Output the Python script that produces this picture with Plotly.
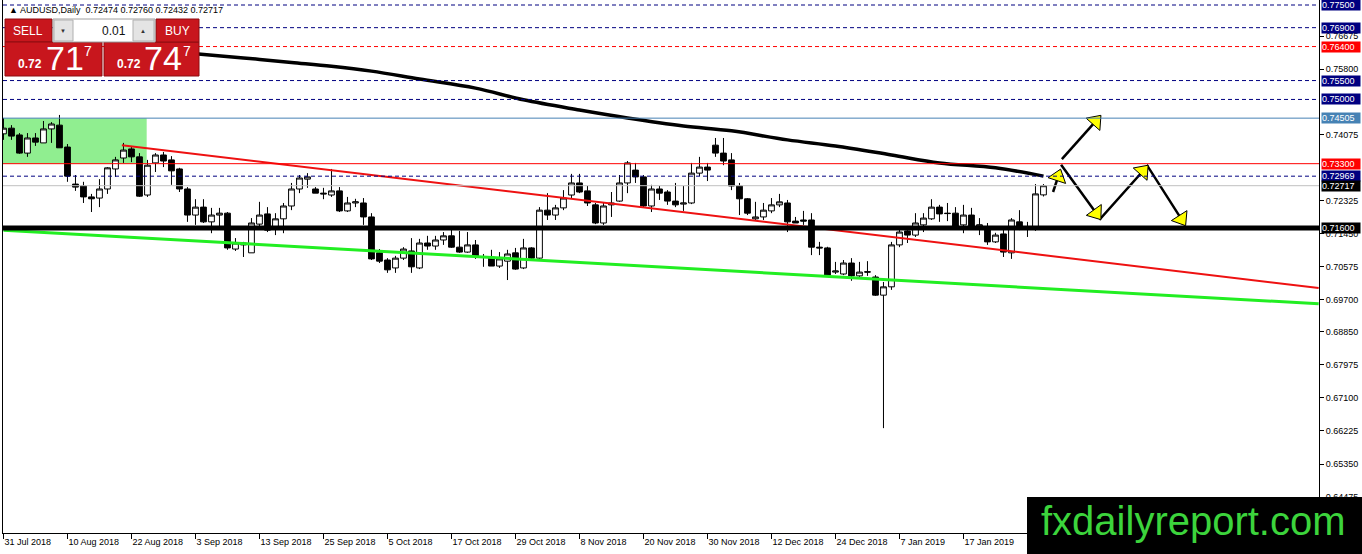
import math
import plotly.graph_objects as go

# AUDUSD daily bars, 31 Jul 2018 .. 31 Jan 2019 (bar index 0..130)
opens = [0.7409, 0.7424, 0.7406, 0.7358, 0.7398, 0.7385, 0.7422, 0.7432, 0.7374, 0.7276,
         0.7271, 0.7242, 0.7239, 0.7263, 0.7316, 0.7345, 0.7369, 0.7348, 0.7247, 0.7332,
         0.7353, 0.7340, 0.7316, 0.7263, 0.7194, 0.7215, 0.7176, 0.7194, 0.7199, 0.7104,
         0.7120, 0.7094, 0.7170, 0.7197, 0.7157, 0.7184, 0.7218, 0.7263, 0.7289, 0.7263,
         0.7252, 0.7247, 0.7258, 0.7205, 0.7226, 0.7226, 0.7189, 0.7094, 0.7075, 0.7054,
         0.7080, 0.7099, 0.7054, 0.7120, 0.7112, 0.7128, 0.7139, 0.7109, 0.7096, 0.7115,
         0.7083, 0.7083, 0.7059, 0.7072, 0.7094, 0.7054, 0.7107, 0.7080, 0.7207, 0.7194,
         0.7213, 0.7247, 0.7279, 0.7258, 0.7221, 0.7173, 0.7221, 0.7231, 0.7279, 0.7313,
         0.7295, 0.7218, 0.7263, 0.7255, 0.7231, 0.7223, 0.7226, 0.7305, 0.7321, 0.7379,
         0.7358, 0.7340, 0.7271, 0.7237, 0.7184, 0.7189, 0.7205, 0.7221, 0.7226, 0.7178,
         0.7181, 0.7181, 0.7109, 0.7107, 0.7043, 0.7038, 0.7067, 0.7033, 0.7044, 0.7030,
         0.6982, 0.7004, 0.7115, 0.7152, 0.7141, 0.7168, 0.7184, 0.7215, 0.7199, 0.7199,
         0.7168, 0.7194, 0.7165, 0.7160, 0.7123, 0.7144, 0.7094, 0.7176, 0.7162, 0.7157,
         0.72474]
highs = [0.7451, 0.7432, 0.7411, 0.7411, 0.7411, 0.7443, 0.7440, 0.7459, 0.7382, 0.7300,
         0.7282, 0.7250, 0.7289, 0.7321, 0.7348, 0.7385, 0.7374, 0.7358, 0.7340, 0.7358,
         0.7361, 0.7350, 0.7319, 0.7268, 0.7236, 0.7236, 0.7213, 0.7213, 0.7202, 0.7133,
         0.7123, 0.7186, 0.7229, 0.7215, 0.7199, 0.7226, 0.7279, 0.7300, 0.7305, 0.7268,
         0.7266, 0.7316, 0.7268, 0.7242, 0.7237, 0.7239, 0.7199, 0.7104, 0.7080, 0.7086,
         0.7109, 0.7133, 0.7131, 0.7139, 0.7139, 0.7149, 0.7157, 0.7152, 0.7149, 0.7128,
         0.7091, 0.7102, 0.7096, 0.7102, 0.7107, 0.7131, 0.7109, 0.7215, 0.7252, 0.7221,
         0.7260, 0.7303, 0.7303, 0.7271, 0.7226, 0.7226, 0.7255, 0.7300, 0.7337, 0.7332,
         0.7300, 0.7274, 0.7271, 0.7260, 0.7279, 0.7271, 0.7332, 0.7348, 0.7332, 0.7398,
         0.7398, 0.7358, 0.7279, 0.7239, 0.7229, 0.7226, 0.7239, 0.7250, 0.7234, 0.7189,
         0.7205, 0.7199, 0.7123, 0.7110, 0.7070, 0.7075, 0.7080, 0.7070, 0.7072, 0.7035,
         0.7017, 0.7123, 0.7157, 0.7157, 0.7199, 0.7199, 0.7236, 0.7221, 0.7226, 0.7215,
         0.7221, 0.7213, 0.7186, 0.7173, 0.7147, 0.7160, 0.7186, 0.7207, 0.7176, 0.7276,
         0.72760]
lows = [0.7393, 0.7393, 0.7356, 0.7348, 0.7377, 0.7385, 0.7385, 0.7372, 0.7282, 0.7258,
        0.7226, 0.7202, 0.7215, 0.7250, 0.7295, 0.7332, 0.7334, 0.7242, 0.7242, 0.7308,
        0.7321, 0.7274, 0.7255, 0.7176, 0.7168, 0.7173, 0.7146, 0.7160, 0.7102, 0.7099,
        0.7083, 0.7094, 0.7162, 0.7149, 0.7141, 0.7146, 0.7207, 0.7252, 0.7266, 0.7252,
        0.7236, 0.7242, 0.7202, 0.7202, 0.7215, 0.7168, 0.7075, 0.7067, 0.7041, 0.7041,
        0.7075, 0.7041, 0.7051, 0.7102, 0.7102, 0.7115, 0.7107, 0.7094, 0.7094, 0.7078,
        0.7057, 0.7059, 0.7054, 0.7022, 0.7049, 0.7051, 0.7075, 0.7078, 0.7181, 0.7181,
        0.7207, 0.7239, 0.7252, 0.7218, 0.7170, 0.7168, 0.7189, 0.7229, 0.7252, 0.7279,
        0.7213, 0.7202, 0.7234, 0.7221, 0.7215, 0.7205, 0.7223, 0.7297, 0.7284, 0.7348,
        0.7326, 0.7260, 0.7194, 0.7194, 0.7181, 0.7181, 0.7199, 0.7215, 0.7149, 0.7173,
        0.7168, 0.7088, 0.7088, 0.7030, 0.7038, 0.7035, 0.7020, 0.7030, 0.7033, 0.6980,
        0.6630, 0.6996, 0.7109, 0.7120, 0.7136, 0.7149, 0.7181, 0.7176, 0.7178, 0.7165,
        0.7146, 0.7162, 0.7141, 0.7115, 0.7120, 0.7083, 0.7078, 0.7154, 0.7136, 0.7152,
        0.72432]
closes = [0.7424, 0.7403, 0.7358, 0.7398, 0.7387, 0.7422, 0.7435, 0.7372, 0.7297, 0.7268,
          0.7242, 0.7237, 0.7263, 0.7319, 0.7340, 0.7366, 0.7348, 0.7244, 0.7326, 0.7353,
          0.7337, 0.7311, 0.7263, 0.7194, 0.7215, 0.7176, 0.7194, 0.7199, 0.7107, 0.7120,
          0.7115, 0.7173, 0.7194, 0.7154, 0.7184, 0.7218, 0.7263, 0.7292, 0.7295, 0.7252,
          0.7250, 0.7258, 0.7205, 0.7226, 0.7229, 0.7189, 0.7078, 0.7072, 0.7049, 0.7080,
          0.7104, 0.7057, 0.7120, 0.7112, 0.7128, 0.7139, 0.7109, 0.7096, 0.7115, 0.7086,
          0.7082, 0.7059, 0.7078, 0.7091, 0.7051, 0.7107, 0.7080, 0.7207, 0.7194, 0.7213,
          0.7239, 0.7279, 0.7255, 0.7226, 0.7173, 0.7218, 0.7226, 0.7279, 0.7332, 0.7295,
          0.7218, 0.7263, 0.7252, 0.7231, 0.7221, 0.7226, 0.7305, 0.7321, 0.7313, 0.7358,
          0.7337, 0.7271, 0.7237, 0.7199, 0.7189, 0.7207, 0.7221, 0.7229, 0.7176, 0.7173,
          0.7178, 0.7109, 0.7107, 0.7035, 0.7046, 0.7067, 0.7033, 0.7043, 0.7043, 0.6982,
          0.7004, 0.7115, 0.7149, 0.7141, 0.7173, 0.7186, 0.7215, 0.7197, 0.7198, 0.7165,
          0.7194, 0.7165, 0.7168, 0.7123, 0.7141, 0.7096, 0.7181, 0.7162, 0.7160, 0.7250,
          0.72717]

date_ticks = [0, 8, 16, 24, 32, 40, 48, 56, 64, 72, 80, 88, 96, 104, 112, 120]
date_labels = ['31 Jul 2018', '10 Aug 2018', '22 Aug 2018', '3 Sep 2018', '13 Sep 2018',
               '25 Sep 2018', '5 Oct 2018', '17 Oct 2018', '29 Oct 2018', '8 Nov 2018',
               '20 Nov 2018', '30 Nov 2018', '12 Dec 2018', '24 Dec 2018', '7 Jan 2019',
               '17 Jan 2019']

# moving average (black), sampled along the visible part
ma_x = [24, 30, 36, 41, 46, 52, 59, 65, 72, 78, 85, 91, 98, 104, 111, 117, 124, 130]
ma_y = [0.7621, 0.7610, 0.7598, 0.7588, 0.7575, 0.7554, 0.7530, 0.7499, 0.7472, 0.7451,
        0.7430, 0.7417, 0.7393, 0.7377, 0.7353, 0.7332, 0.7319, 0.7297]

price_ticks = [0.76675, 0.75800, 0.74075, 0.72325, 0.71450, 0.70575, 0.69700, 0.68850,
               0.67975, 0.67100, 0.66225, 0.65350, 0.64475]

# horizontal levels: value, line colour, dash, width, label background
levels = [
    (0.77500, '#000080', '4px,3px', 1, '#000080'),
    (0.76900, '#000080', '4px,3px', 1, '#000080'),
    (0.76400, '#ff0000', '4px,3px', 1, '#ff0000'),
    (0.75500, '#000080', '4px,3px', 1, '#000080'),
    (0.75000, '#000080', '4px,3px', 1, '#000080'),
    (0.74505, '#4682b4', 'solid', 1, '#4682b4'),
    (0.73300, '#ff0000', 'solid', 1, '#ff0000'),
    (0.72969, '#000080', '4px,3px', 1, '#000080'),
    (0.72717, '#c0c0c0', 'solid', 1, '#000000'),
    (0.71600, '#000000', 'solid', 5, '#000000'),
]

red_trend_x = [14.8, 164.4]
red_trend_y = [0.7379, 0.7001]
green_trend_x = [0.0, 164.4]
green_trend_y = [0.7154, 0.6959]

box_x = [-0.1, 17.9]
box_y = [0.74505, 0.73300]

# projected paths (yellow arrow heads at the end of each leg)
arrow_up_x = [132.3, 137.1]
arrow_up_y = [0.7342, 0.7456]
arrow_small_x = [131.2, 132.1]
arrow_small_y = [0.7255, 0.7313]
zigzag_x = [132.2, 137.1, 143.0, 147.7]
zigzag_y = [0.7327, 0.7184, 0.7324, 0.7168]

W, H = 1362, 554
ML, MR, MT, MB = 3, 43, 0, 21
x_range = [-0.06, 164.44]
y_range = [0.635244, 0.776323]
sx = (W - ML - MR) / (x_range[1] - x_range[0])
sy = (H - MT - MB) / (y_range[1] - y_range[0])
FONT = 'Liberation Sans, Arial, sans-serif'


def px(x):
    return (x - ML) / (W - ML - MR)


def py(y):
    return 1 - (y - MT) / (H - MT - MB)


fig = go.Figure()

fig.add_trace(go.Candlestick(
    x=list(range(len(opens))), open=opens, high=highs, low=lows, close=closes,
    increasing=dict(fillcolor='white', line=dict(color='black', width=1)),
    decreasing=dict(fillcolor='black', line=dict(color='black', width=1)),
    hoverinfo='skip', showlegend=False))

fig.add_trace(go.Scatter(x=ma_x, y=ma_y, mode='lines', line=dict(color='black', width=3.5, shape='spline'),
                         hoverinfo='skip', showlegend=False))
fig.add_trace(go.Scatter(x=red_trend_x, y=red_trend_y, mode='lines',
                         line=dict(color='#ee1111', width=2), hoverinfo='skip', showlegend=False))
fig.add_trace(go.Scatter(x=green_trend_x, y=green_trend_y, mode='lines',
                         line=dict(color='#22ee22', width=3), hoverinfo='skip', showlegend=False))


# arrows: black legs with yellow outlined heads
def add_path(xs, ys):
    fig.add_trace(go.Scatter(x=xs, y=ys, mode='lines', line=dict(color='black', width=2.5),
                             hoverinfo='skip', showlegend=False))
    hx, hy, ang = [], [], []
    for i in range(1, len(xs)):
        dx = (xs[i] - xs[i - 1]) * sx
        dy = (ys[i] - ys[i - 1]) * sy
        n = math.hypot(dx, dy)
        back = 7.0
        hx.append(xs[i] - dx / n * back / sx)
        hy.append(ys[i] - dy / n * back / sy)
        ang.append(math.degrees(math.atan2(dx, dy)))
    fig.add_trace(go.Scatter(x=hx, y=hy, mode='markers',
                             marker=dict(symbol='triangle-up', size=16, angle=ang,
                                         color='#ffff00', line=dict(color='black', width=1)),
                             hoverinfo='skip', showlegend=False))


add_path(arrow_up_x, arrow_up_y)
add_path(arrow_small_x, arrow_small_y)
add_path(zigzag_x, zigzag_y)

shapes = []
annotations = []

shapes.append(dict(type='rect', xref='x', yref='y', x0=box_x[0], x1=box_x[1],
                   y0=box_y[0], y1=box_y[1], fillcolor='#90ee90', line=dict(width=0),
                   layer='below'))

for v, col, dash, lw, bg in levels:
    shapes.append(dict(type='line', xref='paper', yref='y', x0=0, x1=1, y0=v, y1=v,
                       line=dict(color=col, width=lw, dash=dash), layer='above'))
    annotations.append(dict(xref='paper', yref='y', x=1, y=v, xanchor='left', yanchor='middle',
                            xshift=2, text='%.5f' % v, showarrow=False, bgcolor=bg,
                            font=dict(family=FONT, size=9, color='white'),
                            width=38, height=10, borderpad=0, align='left'))

# trade panel (top left)
RED = '#c8161d'
DARK = '#8e0c10'


def rect(x0, y0, x1, y1, fill, line_col, lw=1):
    shapes.append(dict(type='rect', xref='paper', yref='paper', x0=px(x0), x1=px(x1),
                       y0=py(y1), y1=py(y0), fillcolor=fill, line=dict(color=line_col, width=lw),
                       layer='above'))


def text(x, y, s, size, color='white', anchor='center', bold=False):
    annotations.append(dict(xref='paper', yref='paper', x=px(x), y=py(y), xanchor=anchor,
                            yanchor='middle', text='<b>%s</b>' % s if bold else s,
                            showarrow=False, font=dict(family=FONT, size=size, color=color)))


rect(5, 19, 52, 42, RED, DARK)
rect(5, 42, 102, 76, RED, DARK)
rect(104, 42, 199, 76, RED, DARK)
rect(156, 19, 199, 42, RED, DARK)
rect(53, 19, 155, 42, 'white', '#a0a0a0')
rect(54, 20, 73, 41, '#e4e4e4', '#b0b0b0')
rect(133, 20, 154, 41, '#e4e4e4', '#b0b0b0')
text(28, 31, 'SELL', 12)
text(177, 31, 'BUY', 12)
text(63, 31, '▼', 6, '#333333')
text(143, 31, '▲', 6, '#333333')
text(128, 31, '0.01', 12, '#111111', anchor='right')
text(30, 64, '0.72', 12, bold=True)
text(65, 58, '71', 34)
text(88, 51, '7', 14)
text(129, 64, '0.72', 12, bold=True)
text(163, 58, '74', 34)
text(187, 51, '7', 14)

text(7, 10, '▲ AUDUSD,Daily  0.72474 0.72760 0.72432 0.72717', 9, '#000000', anchor='left')

# watermark
shapes.append(dict(type='rect', xref='paper', yref='paper', x0=px(1027), x1=px(1362),
                   y0=py(554), y1=py(497), fillcolor='black', line=dict(width=0), layer='above'))
text(1193, 521, 'fxdailyreport.com', 40, '#3cd43c')

fig.update_layout(
    width=W, height=H, autosize=False,
    margin=dict(l=ML, r=MR, t=MT, b=MB, pad=0),
    paper_bgcolor='white', plot_bgcolor='white',
    font=dict(family=FONT, size=9, color='black'),
    shapes=shapes, annotations=annotations,
    boxgap=0.15, boxgroupgap=0.15,
    xaxis=dict(range=x_range, rangeslider=dict(visible=False), showgrid=False, zeroline=False,
               showline=True, linecolor='black', linewidth=1,
               tickmode='array', tickvals=date_ticks, ticktext=date_labels,
               ticks='outside', ticklen=5, tickcolor='black',
               ticklabelposition='outside right', tickfont=dict(size=9)),
    yaxis=dict(range=y_range, side='right', showgrid=False, zeroline=False,
               showline=True, mirror=True, linecolor='black', linewidth=1,
               tickmode='array', tickvals=price_ticks,
               ticktext=['%.5f' % v for v in price_ticks],
               ticks='outside', ticklen=4, tickcolor='black', tickfont=dict(size=9)),
)

fig.write_html('out.html', config={'displayModeBar': False},
               post_script="document.body.style.margin='0px';document.body.style.overflow='hidden';")
